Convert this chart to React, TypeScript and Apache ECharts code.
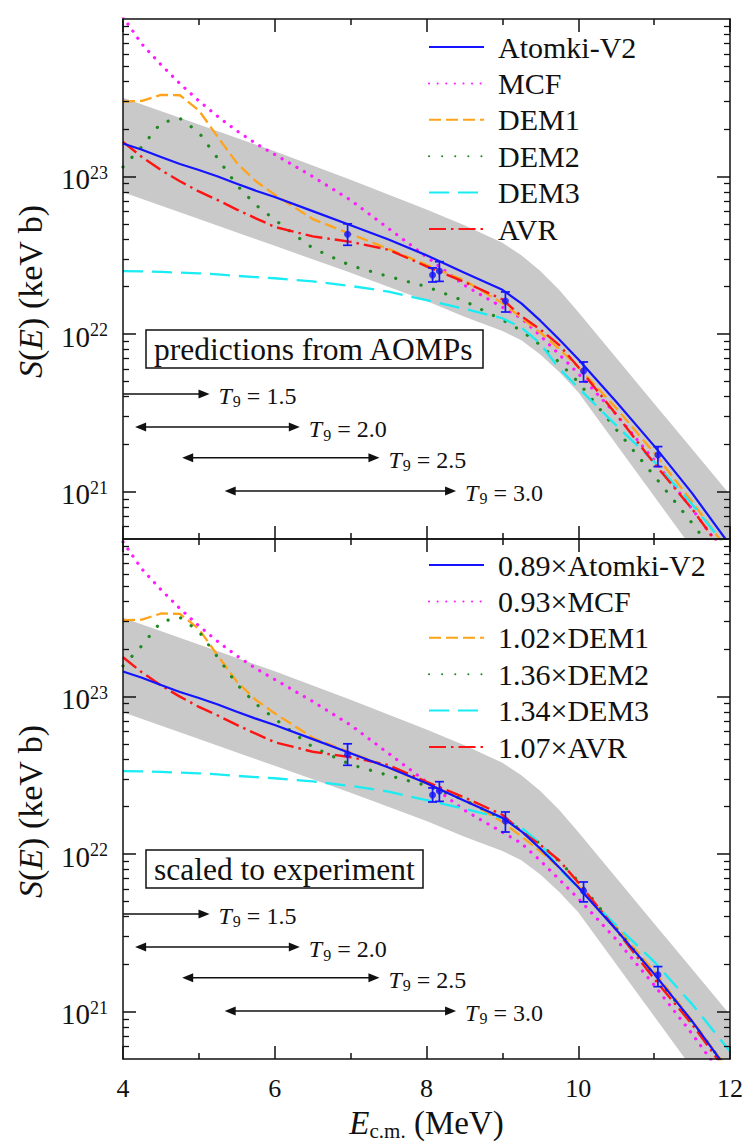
import React, { useEffect, useRef } from "react";
import * as echarts from "echarts";

const FONT = "Liberation Serif, Times New Roman, DejaVu Serif, serif";
const INK = "#111111";

const energies = [4, 4.25, 4.5, 4.75, 5, 5.25, 5.5, 5.75, 6, 6.5, 7, 7.5, 8, 8.5, 9, 9.25, 9.5, 9.75, 10, 10.5, 11, 11.5, 12];

// S(E) in keV b, upper panel (predictions from AOMPs)
const atomkiV2 = [1.62e23, 1.48e23, 1.33e23, 1.2e23, 1.1e23, 1.0e23, 9.0e22, 8.13e22, 7.41e22, 6.03e22, 4.9e22, 3.98e22, 3.16e22, 2.45e22, 1.91e22, 1.567e22, 1.216e22, 9.23e21, 6.92e21, 3.72e21, 1.95e21, 9.77e20, 4.57e20];
const mcf = [1.03e24, 6.92e23, 5.13e23, 3.89e23, 3.02e23, 2.4e23, 1.95e23, 1.62e23, 1.38e23, 1.0e23, 7.08e22, 4.68e22, 3.09e22, 2.04e22, 1.48e22, 1.26e22, 9.77e21, 7.41e21, 5.62e21, 3.09e21, 1.585e21, 7.76e20, 3.63e20];
const dem1 = [2.99e23, 3.02e23, 3.3e23, 3.28e23, 2.63e23, 1.78e23, 1.22e23, 9.33e22, 7.67e22, 5.37e22, 4.32e22, 3.47e22, 2.75e22, 2.19e22, 1.57e22, 1.27e22, 1.02e22, 8.04e21, 6.17e21, 3.39e21, 1.76e21, 8.61e20, 4.07e20];
const dem2 = [1.15e23, 1.55e23, 2.19e23, 2.34e23, 1.905e23, 1.3e23, 8.81e22, 6.61e22, 5.31e22, 3.51e22, 2.72e22, 2.32e22, 2.0e22, 1.62e22, 1.23e22, 1.05e22, 8.51e21, 6.61e21, 4.95e21, 2.48e21, 1.26e21, 6.31e20, 3.02e20];
const dem3 = [2.51e22, 2.5e22, 2.48e22, 2.455e22, 2.43e22, 2.39e22, 2.34e22, 2.3e22, 2.26e22, 2.16e22, 2.02e22, 1.86e22, 1.64e22, 1.445e22, 1.26e22, 1.1e22, 8.71e21, 6.03e21, 4.57e21, 2.63e21, 1.55e21, 8.32e20, 4.17e20];
const avr = [1.66e23, 1.33e23, 1.1e23, 9.33e22, 8.04e22, 7.08e22, 6.17e22, 5.43e22, 4.79e22, 4.17e22, 3.85e22, 3.43e22, 2.69e22, 2.14e22, 1.66e22, 1.3e22, 1.07e22, 8.51e21, 6.17e21, 3.09e21, 1.51e21, 7.76e20, 3.63e20];

// Model names and the scale factors printed in the lower legend
const modelNames = ["Atomki-V2", "MCF", "DEM1", "DEM2", "DEM3", "AVR"];
const scaleFactors = [0.89, 0.93, 1.02, 1.36, 1.34, 1.07];

// Grey uncertainty band
const bandEnergy = [4, 5, 6, 7, 8, 8.5, 9, 9.25, 9.5, 9.75, 10, 10.5, 11, 11.5, 12];
const bandUpper = [3.16e23, 2.14e23, 1.445e23, 9.55e22, 6.17e22, 4.9e22, 3.8e22, 3.16e22, 2.51e22, 1.905e22, 1.38e22, 7.08e21, 3.63e21, 1.86e21, 9.55e20];
const bandLower = [7.94e22, 5.37e22, 3.63e22, 2.45e22, 1.62e22, 1.29e22, 1.047e22, 9.12e21, 7.41e21, 5.75e21, 4.27e21, 2.0e21, 9.33e20, 4.37e20, 2.09e20];

// Experimental points
const expEnergy = [6.96, 8.08, 8.17, 9.04, 10.07, 11.05];
const expS = [4.3e22, 2.37e22, 2.51e22, 1.62e22, 5.83e21, 1.71e21];
const expLow = [3.66e22, 2.14e22, 2.16e22, 1.38e22, 4.97e21, 1.44e21];
const expHigh = [5.01e22, 2.63e22, 2.88e22, 1.85e22, 6.65e21, 1.93e21];

// Gamow windows
const gamowT9 = ["1.5", "2.0", "2.5", "3.0"];
const gamowLow = [4.0, 4.16, 4.78, 5.34];
const gamowHigh = [5.14, 6.33, 7.38, 8.39];
const gamowLevel = [4.17e21, 2.57e21, 1.64e21, 1.01e21];

// Axis ticks
const xMin = 4;
const xMax = 12;
const yMin = 5e20;
const yMax = 1e24;
const yMajor = [1e21, 1e22, 1e23, 1e24];
const yMinor = [6e20, 7e20, 8e20, 9e20, 2e21, 3e21, 4e21, 5e21, 6e21, 7e21, 8e21, 9e21, 2e22, 3e22, 4e22, 5e22, 6e22, 7e22, 8e22, 9e22, 2e23, 3e23, 4e23, 5e23, 6e23, 7e23, 8e23, 9e23];

const panelTitles = ["predictions from AOMPs", "scaled to experiment"];

const modelValues = [atomkiV2, mcf, dem1, dem2, dem3, avr];
const modelStyles: any[] = [
  { color: "#1414ff", width: 2.2, type: "solid", cap: "butt" },
  { color: "#ff1aff", width: 3.2, type: [0.1, 8.5], cap: "round" },
  { color: "#ffa31a", width: 2.3, type: [12, 5], cap: "butt" },
  { color: "#1f8a1f", width: 3.2, type: [0.1, 13], cap: "round" },
  { color: "#19ecf2", width: 2.3, type: [20, 9], cap: "butt" },
  { color: "#ff1414", width: 2.4, type: [17, 5, 2.5, 5], cap: "butt" },
];

const BLUE = "#1414ff";

function buildOption(): any {
  const grids = [
    { left: 123, top: 19, width: 607, height: 520 },
    { left: 123, top: 539, width: 607, height: 520 },
  ];

  const xAxis: any[] = [];
  const yAxis: any[] = [];
  const series: any[] = [];

  const yLabelRich = {
    b: { fontFamily: FONT, fontSize: 29, color: INK, lineHeight: 30, padding: [6, 0, 0, 0], verticalAlign: "bottom" },
    s: { fontFamily: FONT, fontSize: 18, color: INK, lineHeight: 20, verticalAlign: "top" },
  };

  for (let p = 0; p < 2; p++) {
    const baseX = {
      type: "value",
      gridIndex: p,
      min: xMin,
      max: xMax,
      interval: 2,
      z: 10,
      axisLine: { show: true, lineStyle: { color: INK, width: 1.5 } },
      axisTick: { show: true, inside: true, length: 13, lineStyle: { color: INK, width: 1.5 } },
      minorTick: { show: true, splitNumber: 2, length: 6, lineStyle: { color: INK, width: 1.5 } },
      splitLine: { show: false },
      minorSplitLine: { show: false },
    };
    xAxis.push({
      ...baseX,
      position: "bottom",
      axisLabel: {
        show: p === 1,
        fontFamily: FONT,
        fontSize: 26,
        color: INK,
        margin: 16,
      },
      name: p === 1 ? "{i|E}{s|c.m.}{n| (MeV)}" : "",
      nameLocation: "middle",
      nameGap: 47,
      nameTextStyle: {
        fontFamily: FONT,
        rich: {
          i: { fontFamily: FONT, fontSize: 33, fontStyle: "italic", color: INK, lineHeight: 35, verticalAlign: "top" },
          s: { fontFamily: FONT, fontSize: 21, color: INK, lineHeight: 22, padding: [17, 0, 0, 0], verticalAlign: "bottom" },
          n: { fontFamily: FONT, fontSize: 33, color: INK, lineHeight: 35, verticalAlign: "top" },
        },
      },
    });
    xAxis.push({ ...baseX, position: "top", axisLabel: { show: false } });

    const baseY = {
      type: "log",
      logBase: 10,
      gridIndex: p,
      min: yMin,
      max: yMax,
      z: 10,
      splitLine: { show: false },
      minorTick: { show: false },
      minorSplitLine: { show: false },
    };
    for (const pos of ["left", "right"]) {
      const isLeft = pos === "left";
      yAxis.push({
        ...baseY,
        position: pos,
        axisLine: { show: true, lineStyle: { color: INK, width: 1.5 } },
        axisTick: { show: true, inside: true, length: 13, customValues: yMajor, lineStyle: { color: INK, width: 1.5 } },
        axisLabel: {
          show: isLeft,
          customValues: yMajor,
          margin: 15,
          padding: [4, 0, 0, 0],
          fontFamily: FONT,
          formatter: (v: number) => `{b|10}{s|${Math.round(Math.log10(v))}}`,
          rich: yLabelRich,
        },
      });
      yAxis.push({
        ...baseY,
        position: pos,
        axisLine: { show: false },
        axisTick: { show: true, inside: true, length: 6, customValues: yMinor, lineStyle: { color: INK, width: 1.3 } },
        axisLabel: { show: false },
      });
    }

    const xi = p * 2;
    const yi = p * 4;

    // grey band
    series.push({
      type: "custom",
      xAxisIndex: xi,
      yAxisIndex: yi,
      z: 1,
      silent: true,
      data: bandEnergy.map((e, i) => [e, bandUpper[i], bandLower[i]]),
      renderItem: (params: any, api: any) => {
        if (params.dataIndex !== 0) return null;
        const up = bandEnergy.map((e, i) => api.coord([e, bandUpper[i]]));
        const lo = bandEnergy.map((e, i) => api.coord([e, bandLower[i]])).reverse();
        const cs = params.coordSys;
        return {
          type: "polygon",
          shape: { points: up.concat(lo) },
          style: { fill: "#c9c9c9", stroke: null },
          clipPath: { type: "rect", shape: { x: cs.x, y: cs.y, width: cs.width, height: cs.height } },
        };
      },
    });

    // model curves
    modelNames.forEach((nm, m) => {
      const f = p === 0 ? 1 : scaleFactors[m];
      const st = modelStyles[m];
      series.push({
        type: "line",
        name: p === 0 ? nm : `${scaleFactors[m].toFixed(2)}×${nm}`,
        xAxisIndex: xi,
        yAxisIndex: yi,
        data: energies.map((e, i) => [e, modelValues[m][i] * f]),
        symbol: "none",
        smooth: false,
        clip: true,
        z: 3 + (m === 0 ? 0.5 : 0),
        itemStyle: { color: st.color },
        lineStyle: { color: st.color, width: st.width, type: st.type, cap: st.cap, join: "round" },
      });
    });

    // error bars
    series.push({
      type: "custom",
      xAxisIndex: xi,
      yAxisIndex: yi,
      z: 6,
      silent: true,
      data: expEnergy.map((e, i) => [e, expLow[i], expHigh[i]]),
      renderItem: (params: any, api: any) => {
        const lo = api.coord([api.value(0), api.value(1)]);
        const hi = api.coord([api.value(0), api.value(2)]);
        const st = { stroke: BLUE, lineWidth: 1.7 };
        return {
          type: "group",
          children: [
            { type: "line", shape: { x1: lo[0], y1: lo[1], x2: hi[0], y2: hi[1] }, style: st },
            { type: "line", shape: { x1: lo[0] - 4.5, y1: lo[1], x2: lo[0] + 4.5, y2: lo[1] }, style: st },
            { type: "line", shape: { x1: hi[0] - 4.5, y1: hi[1], x2: hi[0] + 4.5, y2: hi[1] }, style: st },
          ],
        };
      },
    });
    series.push({
      type: "scatter",
      xAxisIndex: xi,
      yAxisIndex: yi,
      z: 7,
      symbol: "circle",
      symbolSize: 7,
      itemStyle: { color: BLUE },
      data: expEnergy.map((e, i) => [e, expS[i]]),
    });

    // Gamow window arrows
    series.push({
      type: "custom",
      xAxisIndex: xi,
      yAxisIndex: yi,
      z: 6,
      silent: true,
      data: gamowT9.map((t, i) => [gamowLow[i], gamowLevel[i], gamowHigh[i], i]),
      renderItem: (params: any, api: any) => {
        const i = api.value(3);
        const a = api.coord([api.value(0), api.value(1)]);
        const b = api.coord([api.value(2), api.value(1)]);
        const hl = 11;
        const hw = 4.5;
        const children: any[] = [];
        const hasLeft = gamowLow[i] > xMin;
        children.push({
          type: "line",
          shape: { x1: a[0] + (hasLeft ? hl - 1 : 0), y1: a[1], x2: b[0] - hl + 1, y2: b[1] },
          style: { stroke: INK, lineWidth: 1.5 },
        });
        children.push({
          type: "polygon",
          shape: { points: [[b[0], b[1]], [b[0] - hl, b[1] - hw], [b[0] - hl, b[1] + hw]] },
          style: { fill: INK },
        });
        if (hasLeft) {
          children.push({
            type: "polygon",
            shape: { points: [[a[0], a[1]], [a[0] + hl, a[1] - hw], [a[0] + hl, a[1] + hw]] },
            style: { fill: INK },
          });
        }
        children.push({
          type: "text",
          x: b[0] + 9,
          y: b[1] + 3,
          style: {
            text: `{t|T}{s|9}{n| = ${gamowT9[i]}}`,
            align: "left",
            verticalAlign: "middle",
            fontFamily: FONT,
            rich: {
              t: { fontFamily: FONT, fontSize: 24, fontStyle: "italic", fill: INK, lineHeight: 26, verticalAlign: "top" },
              s: { fontFamily: FONT, fontSize: 16, fill: INK, lineHeight: 16, padding: [13, 0, 0, 1], verticalAlign: "bottom" },
              n: { fontFamily: FONT, fontSize: 24, fill: INK, lineHeight: 26, verticalAlign: "top" },
            },
          },
        });
        return { type: "group", children };
      },
    });
  }

  const legendBase = {
    orient: "vertical",
    left: 428,
    itemWidth: 55,
    itemHeight: 14,
    itemGap: 0.4,
    padding: 0,
    selectedMode: false,
    itemStyle: { opacity: 0, borderWidth: 0 },
    textStyle: { fontFamily: FONT, fontSize: 30, color: INK, lineHeight: 36, padding: [0, 0, 0, 9] },
  };

  const yNameRich = {
    i: { fontFamily: FONT, fontSize: 34, fontStyle: "italic", fill: INK },
    n: { fontFamily: FONT, fontSize: 34, fill: INK },
  };

  return {
    animation: false,
    backgroundColor: "#ffffff",
    textStyle: { fontFamily: FONT },
    grid: grids,
    xAxis,
    yAxis,
    graphic: [378, 898].map((by) => ({
      type: "text",
      x: 30,
      y: by,
      rotation: Math.PI / 2,
      silent: true,
      style: {
        text: "{i|S}{n|(}{i|E}{n|) (keV b)}",
        align: "left",
        verticalAlign: "middle",
        fontFamily: FONT,
        fontSize: 34,
        rich: yNameRich,
      },
    })),
    title: panelTitles.map((t, p) => ({
      text: t,
      left: 146,
      top: p === 0 ? 330 : 850,
      borderColor: INK,
      borderWidth: 1.5,
      padding: [3, 9, 3, 8],
      textStyle: { fontFamily: FONT, fontSize: 31.5, fontWeight: "normal", color: INK, lineHeight: 32 },
    })),
    legend: [
      { ...legendBase, top: 29, data: modelNames },
      { ...legendBase, top: 547, data: modelNames.map((n, m) => `${scaleFactors[m].toFixed(2)}×${n}`) },
    ],
    series,
  };
}

export default function App() {
  const ref = useRef<HTMLDivElement>(null);
  useEffect(() => {
    if (!ref.current) return;
    const chart = echarts.init(ref.current, null, { renderer: "svg" });
    chart.setOption(buildOption());
    return () => chart.dispose();
  }, []);
  return (
    <div
      ref={ref}
      style={{ position: "absolute", left: 0, top: 0, width: 747, height: 1146, background: "#ffffff" }}
    />
  );
}
